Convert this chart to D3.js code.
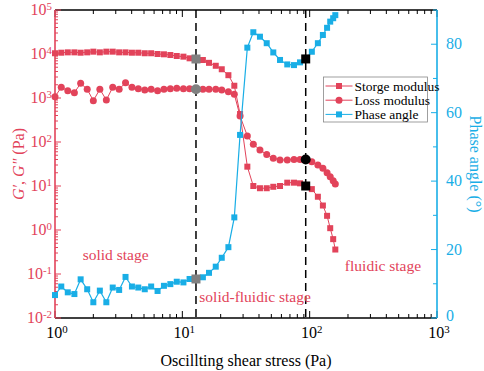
<!DOCTYPE html>
<html>
<head>
<meta charset="utf-8">
<script src="https://cdn.jsdelivr.net/npm/d3@7"></script>
<style>
  body { margin: 0; background: #fff; }
  svg { display: block; font-family: "Liberation Serif", "Times New Roman", serif; }
</style>
</head>
<body>
<div id="chart"></div>
<script>
// shear stress (Pa), shared by the three series
const stress = [1.00, 1.12, 1.26, 1.42, 1.59, 1.79, 2.00, 2.25, 2.53, 2.84, 3.19, 3.58, 4.02, 4.51, 5.07, 5.69, 6.39, 7.17, 8.05, 9.04, 10.2, 11.4, 12.8,
  14.5, 16.2, 18.3, 20.4, 23.0, 25.6, 28.4, 32.4, 36.1, 40.7, 46.0, 51.8, 58.5, 66.7, 75.3, 84.0, 93.1,
  104, 116, 127, 137, 145, 153, 159];
// storage modulus G' (Pa)
const storage = [10400, 10700, 10900, 10900, 10700, 10900, 11300, 10900, 11300, 11300, 10900, 10900, 10700, 10700, 10400, 10400, 10000, 9840, 9480, 9010, 8700, 7980, 7700,
  7300, 6300, 5400, 4500, 3300, 1900, 433, 27.5, 10, 8.9, 8.9, 9.6, 10, 11.9, 11.9, 11.5, 10,
  8.5, 5.7, 3.6, 2.1, 1.1, 0.62, 0.36];
// loss modulus G'' (Pa)
const loss = [1070, 1750, 1470, 1320, 2160, 1580, 870, 1580, 900, 1750, 1580, 2230, 1750, 1630, 1520, 1580, 1470, 1580, 1630, 1660, 1630, 1630, 1580,
  1580, 1580, 1580, 1520, 1390, 1210, 390, 137, 89, 66, 52, 43, 39, 39, 40, 40, 40,
  35.6, 30, 25.2, 20, 16.3, 13.2, 11.1];
// phase angle (deg)
const phase = [6.7, 9.2, 7.5, 7.0, 11.3, 8.4, 4.6, 8.0, 4.6, 8.9, 8.2, 12.0, 9.2, 8.9, 8.4, 9.2, 7.9, 9.4, 9.9, 10.6, 10.4, 11.4, 11.4,
  11.9, 13.2, 15.0, 17.6, 20.7, 29.4, 53.5, 79.0, 83.5, 82.2, 80.3, 77.6, 75.4, 74.1, 73.9, 74.7, 75.7,
  77.8, 80.3, 82.7, 84.8, 86.6, 87.6, 88.5];

// stage boundaries (index into stress) and labels
const boundaries = [{ i: 22, color: "#808080" }, { i: 39, color: "#000000" }];
const stages = [
  { text: "solid stage", x: 1.65, y: 0.21 },
  { text: "solid-fluidic stage", x: 13.6, y: 0.023 },
  { text: "fluidic stage", x: 189, y: 0.117 }
];
const legendItems = ["Storge modulus", "Loss modulus", "Phase angle"];
const xTicks = [1, 10, 100, 1000];
const yTicks = [1e-2, 1e-1, 1, 10, 100, 1e3, 1e4, 1e5];
const phaseTicks = [0, 20, 40, 60, 80];

const red = "#e2435a";
const blue = "#19aee6";

const W = 484, H = 371;
const margin = { left: 55, right: 47, top: 10, bottom: 53 };
const iw = W - margin.left - margin.right;
const ih = H - margin.top - margin.bottom;

const svg = d3.select("#chart").append("svg").attr("width", W).attr("height", H);
const g = svg.append("g").attr("transform", `translate(${margin.left},${margin.top})`);

const x = d3.scaleLog().domain([1, 1000]).range([0, iw]);
const y = d3.scaleLog().domain([1e-2, 1e5]).range([ih, 0]);
const y2 = d3.scaleLinear().domain([0, 90]).range([ih, 0]);

// minor tick values for log axes
function logMinor(lo, hi) {
  const out = [];
  for (let e = Math.log10(lo); e < Math.log10(hi); e++) {
    for (let k = 1; k < 10; k++) out.push(k * Math.pow(10, e));
  }
  out.push(hi);
  return out;
}

function sup(sel, v) {
  const e = Math.round(Math.log10(v));
  sel.text("10").append("tspan").attr("dy", "-0.5em").attr("font-size", "0.68em").text(e);
}

// bottom axis
const xb = g.append("g").attr("transform", `translate(0,${ih})`);
xb.selectAll(".minor").data(logMinor(1, 1000)).enter().append("line")
  .attr("x1", d => x(d)).attr("x2", d => x(d))
  .attr("y1", 0).attr("y2", d => xTicks.includes(d) ? -7 : -4)
  .attr("stroke", "#000").attr("stroke-width", 1);
xb.append("line").attr("x1", 0).attr("x2", iw).attr("stroke", "#000").attr("stroke-width", 1.6);
xb.selectAll(".lab").data(xTicks).enter().append("text")
  .attr("x", d => x(d) + 2).attr("y", 20).attr("text-anchor", "middle")
  .attr("font-size", 16).attr("fill", "#000")
  .each(function (d) { sup(d3.select(this), d); });

// top axis
const xt = g.append("g");
xt.selectAll(".minor").data(logMinor(1, 1000)).enter().append("line")
  .attr("x1", d => x(d)).attr("x2", d => x(d))
  .attr("y1", 0).attr("y2", d => xTicks.includes(d) ? 7 : 4)
  .attr("stroke", "#000").attr("stroke-width", 1);
xt.append("line").attr("x1", 0).attr("x2", iw).attr("stroke", "#000").attr("stroke-width", 1.6);

// left axis
const yl = g.append("g");
yl.selectAll(".minor").data(logMinor(1e-2, 1e5)).enter().append("line")
  .attr("y1", d => y(d)).attr("y2", d => y(d))
  .attr("x1", 0).attr("x2", d => yTicks.some(t => Math.abs(t - d) / t < 1e-6) ? 6 : 3)
  .attr("stroke", red).attr("stroke-width", 1);
yl.append("line").attr("y1", 0).attr("y2", ih).attr("stroke", red).attr("stroke-width", 1.6);
yl.selectAll(".lab").data(yTicks).enter().append("text")
  .attr("x", -3).attr("y", d => y(d) + 5).attr("text-anchor", "end")
  .attr("font-size", 16).attr("fill", red)
  .each(function (d) { sup(d3.select(this), d); });

// right axis
const yr = g.append("g").attr("transform", `translate(${iw},0)`);
yr.selectAll(".tick").data(d3.range(0, 91, 10)).enter().append("line")
  .attr("y1", d => y2(d)).attr("y2", d => y2(d))
  .attr("x1", 0).attr("x2", d => d % 20 === 0 ? -6 : -4)
  .attr("stroke", blue).attr("stroke-width", 1);
yr.append("line").attr("y1", 0).attr("y2", ih).attr("stroke", blue).attr("stroke-width", 1.6);
yr.selectAll(".lab").data(phaseTicks).enter().append("text")
  .attr("x", 9).attr("y", d => y2(d) + (d === 0 ? 3 : 5))
  .attr("font-size", 16).attr("fill", blue).text(d => d);

// dashed stage boundaries
g.selectAll(".bound").data(boundaries).enter().append("line")
  .attr("x1", d => x(stress[d.i])).attr("x2", d => x(stress[d.i]))
  .attr("y1", 0).attr("y2", ih)
  .attr("stroke", "#000").attr("stroke-width", 1.5).attr("stroke-dasharray", "8,5");

// series
const pts = vals => stress.map((s, i) => ({ s, v: vals[i] }));
const lineL = d3.line().x(d => x(d.s)).y(d => y(d.v));
const lineR = d3.line().x(d => x(d.s)).y(d => y2(d.v));

function squares(sel, data, sc, color, size) {
  sel.selectAll(null).data(data).enter().append("rect")
    .attr("x", d => x(d.s) - size / 2).attr("y", d => sc(d.v) - size / 2)
    .attr("width", size).attr("height", size).attr("fill", color);
}
function circles(sel, data, sc, color, r) {
  sel.selectAll(null).data(data).enter().append("circle")
    .attr("cx", d => x(d.s)).attr("cy", d => sc(d.v)).attr("r", r).attr("fill", color);
}

const plot = g.append("g");
plot.append("path").datum(pts(storage)).attr("d", lineL).attr("fill", "none").attr("stroke", red).attr("stroke-width", 1);
squares(plot.append("g"), pts(storage), y, red, 6);
plot.append("path").datum(pts(loss)).attr("d", lineL).attr("fill", "none").attr("stroke", red).attr("stroke-width", 1);
circles(plot.append("g"), pts(loss), y, red, 3.5);
plot.append("path").datum(pts(phase)).attr("d", lineR).attr("fill", "none").attr("stroke", blue).attr("stroke-width", 1.2);
squares(plot.append("g"), pts(phase), y2, blue, 6);

// highlighted points on the boundaries
boundaries.forEach(b => {
  const s = stress[b.i];
  squares(plot.append("g"), [{ s, v: storage[b.i] }], y, b.color, 9);
  circles(plot.append("g"), [{ s, v: loss[b.i] }], y, b.color, 5);
  squares(plot.append("g"), [{ s, v: phase[b.i] }], y2, b.color, 9);
});

// stage labels
g.selectAll(".stage").data(stages).enter().append("text")
  .attr("x", d => x(d.x)).attr("y", d => y(d.y))
  .attr("font-size", 15.5).attr("fill", red).text(d => d.text);

// legend
const lg = g.append("g").attr("transform", `translate(${323.5 - margin.left},${77 - margin.top})`);
lg.append("rect").attr("width", 104).attr("height", 45).attr("fill", "#fff")
  .attr("stroke", "#888").attr("stroke-width", 0.8);
legendItems.forEach((name, i) => {
  const cy = 9 + i * 14.2;
  const col = i < 2 ? red : blue;
  lg.append("line").attr("x1", 2).attr("x2", 29).attr("y1", cy).attr("y2", cy)
    .attr("stroke", col).attr("stroke-width", 1);
  if (i === 1) lg.append("circle").attr("cx", 15.5).attr("cy", cy).attr("r", 3.5).attr("fill", col);
  else lg.append("rect").attr("x", 12.5).attr("y", cy - 3).attr("width", 6).attr("height", 6).attr("fill", col);
  lg.append("text").attr("x", 31).attr("y", cy + 4.5).attr("font-size", 13.5).attr("fill", "#000").text(name);
});

// axis titles
svg.append("text").attr("x", margin.left + iw / 2).attr("y", H - 5)
  .attr("text-anchor", "middle").attr("font-size", 16).attr("fill", "#000")
  .text("Oscillting shear stress (Pa)");

const yt = svg.append("text").attr("transform", `translate(24,${margin.top + ih / 2}) rotate(-90)`)
  .attr("text-anchor", "middle").attr("font-size", 16).attr("fill", red);
yt.append("tspan").attr("font-style", "italic").text("G′");
yt.append("tspan").text(", ");
yt.append("tspan").attr("font-style", "italic").text("G″");
yt.append("tspan").text(" (Pa)");

svg.append("text").attr("transform", `translate(470,${margin.top + ih / 2}) rotate(90)`)
  .attr("text-anchor", "middle").attr("font-size", 16).attr("fill", blue)
  .text("Phase angle (°)");
</script>
</body>
</html>
